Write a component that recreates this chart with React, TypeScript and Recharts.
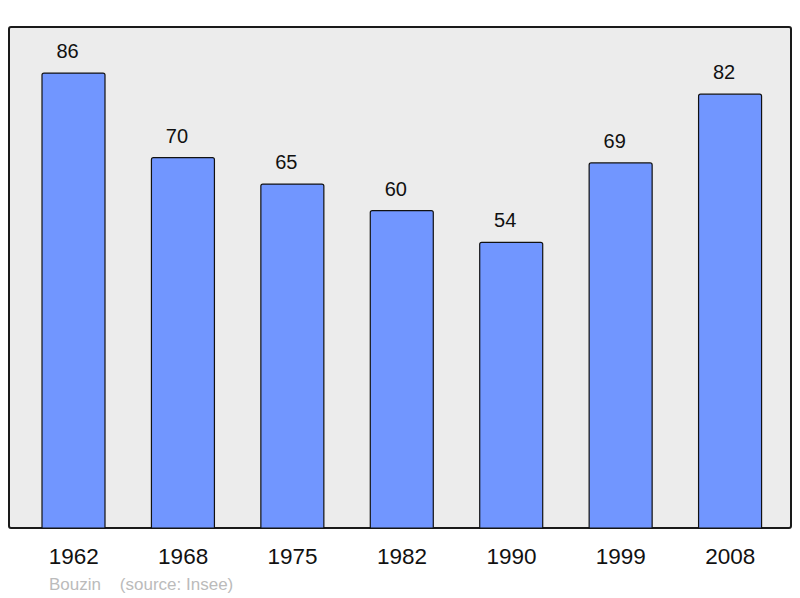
import { BarChart, Bar, XAxis, YAxis, LabelList } from 'recharts'

const years = ['1962', '1968', '1975', '1982', '1990', '1999', '2008']
const population = [86, 70, 65, 60, 54, 69, 82]

const data = years.map((year, i) => ({ year, population: population[i] }))

const FONT = '"Liberation Sans", Arial, sans-serif'

// value above each bar, nudged slightly left like the original
function ValueLabel(props: { x?: number; y?: number; width?: number; value?: number }) {
  const { x = 0, y = 0, width = 0, value } = props
  return (
    <text
      x={x + width / 2 - 6}
      y={y - 15}
      textAnchor="middle"
      fontSize={20}
      fill="#111"
      fontFamily={FONT}
    >
      {value}
    </text>
  )
}

export default function App() {
  return (
    <div style={{ position: 'relative', width: 800, height: 598, fontFamily: FONT }}>
      <style>{'body{margin:0}'}</style>
      {/* grey frame behind the plot */}
      <div
        style={{
          position: 'absolute',
          left: 8,
          top: 26,
          width: 784,
          height: 503,
          boxSizing: 'border-box',
          border: '2px solid #1a1a1a',
          borderRadius: 3,
          background: '#ececec',
        }}
      />
      <div style={{ position: 'absolute', left: 0, top: 0 }}>
        <BarChart
          width={800}
          height={598}
          data={data}
          margin={{ top: 27, right: 15, left: 19, bottom: 0 }}
          barSize={63}
        >
          <XAxis
            dataKey="year"
            height={70}
            axisLine={false}
            tickLine={false}
            tick={{ fontSize: 22.5, fill: '#111', fontFamily: FONT }}
            tickMargin={14}
          />
          <YAxis hide domain={[0, 94.7]} />
          <Bar
            dataKey="population"
            fill="#7196ff"
            stroke="#111"
            strokeWidth={1.2}
            radius={[2, 2, 0, 0]}
            isAnimationActive={false}
          >
            <LabelList dataKey="population" content={<ValueLabel />} />
          </Bar>
        </BarChart>
      </div>
      <div
        style={{
          position: 'absolute',
          left: 49,
          top: 575,
          fontSize: 17,
          color: '#bbbbbb',
          whiteSpace: 'pre',
        }}
      >
        {'Bouzin    (source: Insee)'}
      </div>
    </div>
  )
}
